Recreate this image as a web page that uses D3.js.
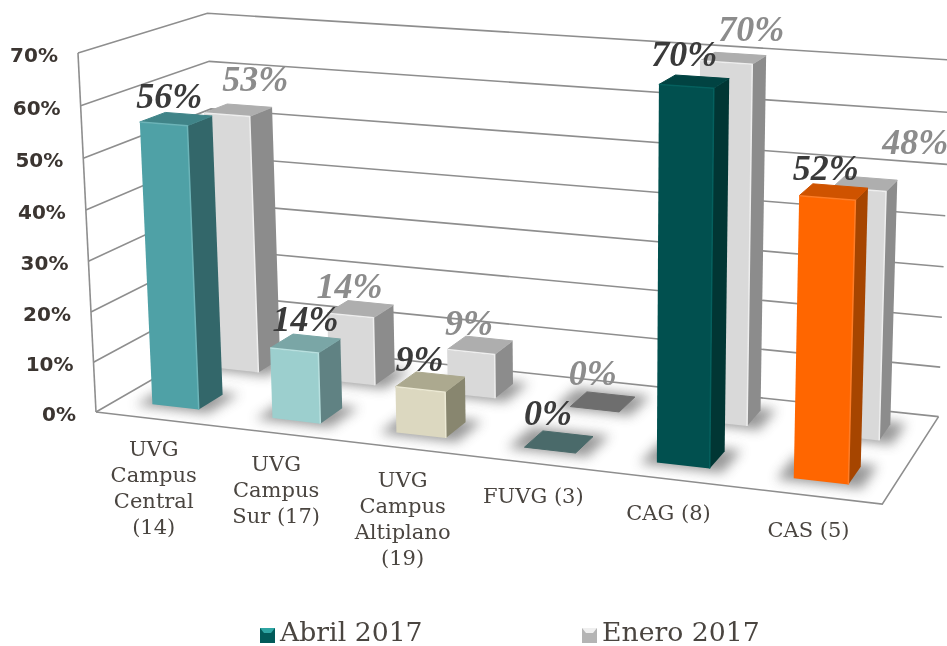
<!DOCTYPE html>
<html>
<head>
  <title>Abril 2017 / Enero 2017</title>
  <meta charset="utf-8">
  <script src="https://d3js.org/d3.v7.min.js"></script>
  <style>
    body { margin: 0; background: #fff; }
    svg { display: block; filter: blur(0.45px); }
  </style>
</head>
<body>
  <svg id="chart" width="947" height="646"></svg>

  <script>
    // Data
    const categories = [
      ["UVG", "Campus", "Central", "(14)"],
      ["UVG", "Campus", "Sur (17)"],
      ["UVG", "Campus", "Altiplano", "(19)"],
      ["FUVG (3)"],
      ["CAG (8)"],
      ["CAS (5)"]
    ];
    const seriesNames = ["Abril 2017", "Enero 2017"];
    const abril = [56, 14, 9, 0, 70, 52];
    const enero = [53, 14, 9, 0, 70, 48];
    const yTicks = [0, 10, 20, 30, 40, 50, 60, 70];

    // Colours: front, side, top, highlight
    const abrilColors = [
      ["#4fa1a6", "#33676a", "#408488", "#6cb4b8"],
      ["#9ccfce", "#608283", "#7aa6a6", "#b8e0df"],
      ["#dcd8c0", "#88866f", "#aca98f", "#ece9d4"],
      ["#4a6a6a", "#4a6a6a", "#4a6a6a", "#4a6a6a"],
      ["#01504f", "#013634", "#014342", "#05605e"],
      ["#ff6600", "#a64500", "#cf5300", "#ff7d26"]
    ];
    const eneroColors = ["#d9d9d9", "#8c8c8c", "#aeaeae", "#eeeeee"];
    const eneroZero = "#6e6e6e";

    const svg = d3.select("#chart");

    // Scales: category across the floor, series into the depth, value up the wall
    const uScale = d3.scaleBand().domain(d3.range(categories.length)).range([0, 1]).paddingInner(0.61).paddingOuter(0.305);
    const vScale = d3.scaleBand().domain(seriesNames).range([0, 1]).paddingInner(0.612).paddingOuter(0.306);
    const tScale = d3.scaleLinear().domain([0, 70]).range([0, 1]);

    // Perspective projection of the plot box, fitted to its corners
    function project(u, v, t) {
      const w = 1 - 0.0955 * u + 0.1013 * v - 0.0344 * t;
      return [
        (96 + 702 * u + 146 * v - 20.7 * t) / w,
        (412 + 44 * u - 37 * v - 360.8 * t) / w
      ];
    }
    const poly = d3.line();
    const closed = (pts) => poly(pts) + "Z";

    const defs = svg.append("defs");
    defs.append("filter").attr("id", "soft").attr("x", "-60%").attr("y", "-120%").attr("width", "220%").attr("height", "340%")
      .append("feGaussianBlur").attr("stdDeviation", 6);

    // Walls and floor
    const gridColor = "#8e8e8e";
    const grid = svg.append("g").attr("fill", "none").attr("stroke", gridColor).attr("stroke-width", 1.6);
    yTicks.forEach((tick) => {
      const t = tScale(tick);
      grid.append("path").attr("d", poly([project(0, 0, t), project(0, 1, t), project(1, 1, t)]));
    });
    grid.append("path").attr("d", poly([project(0, 0, 0), project(0, 0, 1)]));
    grid.append("path").attr("d", poly([project(0, 0, 0), project(1, 0, 0), project(1, 1, 0)]));

    // One record per bar, back row first so the front row covers it
    const bars = [];
    enero.forEach((value, i) => bars.push({ i, value, series: seriesNames[1], colors: value ? eneroColors : [eneroZero, eneroZero, eneroZero, eneroZero] }));
    abril.forEach((value, i) => bars.push({ i, value, series: seriesNames[0], colors: abrilColors[i] }));

    const footprint = (d, t, growU = 0, growV = 0) => {
      const u0 = uScale(d.i) - growU, u1 = uScale(d.i) + uScale.bandwidth() + growU;
      const v0 = vScale(d.series) - growV, v1 = vScale(d.series) + vScale.bandwidth() + growV;
      return { a: project(u0, v0, t), b: project(u1, v0, t), c: project(u1, v1, t), e: project(u0, v1, t) };
    };

    // Soft shadows on the floor
    svg.append("g").selectAll("path").data(bars).join("path")
      .attr("d", (d) => {
        const f = footprint(d, 0, 0.018, 0.03);
        return closed([f.a, f.b, f.c, f.e]);
      })
      .attr("fill", "#555")
      .attr("opacity", 0.6)
      .attr("filter", "url(#soft)");

    // Bars
    const barGroups = svg.append("g").selectAll("g").data(bars).join("g");
    barGroups.each(function (d) {
      const g = d3.select(this);
      const low = footprint(d, 0);
      const high = footprint(d, tScale(d.value));
      if (d.value > 0) {
        g.append("path").attr("d", closed([low.a, low.b, high.b, high.a])).attr("fill", d.colors[0]);
        g.append("path").attr("d", closed([low.b, low.c, high.c, high.b])).attr("fill", d.colors[1]);
      }
      g.append("path").attr("d", closed([high.a, high.b, high.c, high.e])).attr("fill", d.colors[2])
        .attr("stroke", d.colors[2]).attr("stroke-width", 1).attr("stroke-linejoin", "round");
      if (d.value > 0) {
        // thin bevel along the front edges
        g.append("path").attr("d", poly([high.a, high.b, low.b]))
          .attr("fill", "none").attr("stroke", d.colors[3]).attr("stroke-width", 1.5).attr("stroke-linejoin", "round");
      }
    });

    // Data labels
    const labelNudge = {
      "Abril 2017": [[-7, -11], [0, -12], [-11, -11], [-11, -17], [-10, -16], [-8, -12]],
      "Enero 2017": [[17, -19], [-11, -11], [-11, -10], [-10, -17], [18, -17], [50, -30]]
    };
    svg.append("g")
      .attr("font-family", "'Liberation Serif', serif")
      .attr("font-style", "italic")
      .attr("font-weight", "bold")
      .attr("font-size", 36)
      .attr("text-anchor", "middle")
      .selectAll("text").data(bars).join("text")
      .attr("x", (d) => {
        const u = uScale(d.i) + uScale.bandwidth() / 2, v = vScale(d.series) + vScale.bandwidth() / 2;
        return project(u, v, tScale(d.value))[0] + labelNudge[d.series][d.i][0];
      })
      .attr("y", (d) => {
        const u = uScale(d.i) + uScale.bandwidth() / 2, v = vScale(d.series) + vScale.bandwidth() / 2;
        return project(u, v, tScale(d.value))[1] + labelNudge[d.series][d.i][1];
      })
      .attr("fill", (d) => (d.series === seriesNames[0] ? "#3a3a3a" : "#8c8c8c"))
      .text((d) => `${d.value}%`);

    // Value axis labels
    svg.append("g")
      .attr("font-family", "'DejaVu Sans', sans-serif")
      .attr("font-weight", "bold")
      .attr("font-size", 20)
      .attr("fill", "#3b3531")
      .attr("text-anchor", "end")
      .selectAll("text").data(yTicks).join("text")
      .attr("x", (d) => project(0, 0, tScale(d))[0] - 20)
      .attr("y", (d) => project(0, 0, tScale(d))[1] + 9)
      .text((d) => `${d}%`);

    // Category labels
    const catGroup = svg.append("g")
      .attr("font-family", "'DejaVu Serif', serif")
      .attr("font-size", 21)
      .attr("fill", "#4a4540")
      .attr("text-anchor", "middle");
    categories.forEach((lines, i) => {
      const u = uScale(i) + uScale.bandwidth() / 2;
      const [x, y] = project(u, 0, 0);
      lines.forEach((line, k) => {
        catGroup.append("text")
          .attr("x", x - 2)
          .attr("y", y + 36 + u * 6 + k * 26)
          .text(line);
      });
    });

    // Legend
    const legendX = d3.scalePoint().domain(seriesNames).range([260, 582]);
    const legend = svg.append("g").selectAll("g").data(seriesNames).join("g")
      .attr("transform", (d) => `translate(${legendX(d)},628)`);
    legend.append("rect").attr("width", 15).attr("height", 15)
      .attr("fill", (d, i) => (i === 0 ? "#025a59" : "#b4b4b4"));
    legend.append("path").attr("d", "M0,0H15L11,5H4Z")
      .attr("fill", (d, i) => (i === 0 ? "#2fa5a3" : "#efefef"));
    legend.append("text")
      .attr("x", 20).attr("y", 13)
      .attr("font-family", "'DejaVu Serif', serif")
      .attr("font-size", 26.7)
      .attr("fill", "#4a4540")
      .text((d) => d);
  </script>
</body>
</html>
